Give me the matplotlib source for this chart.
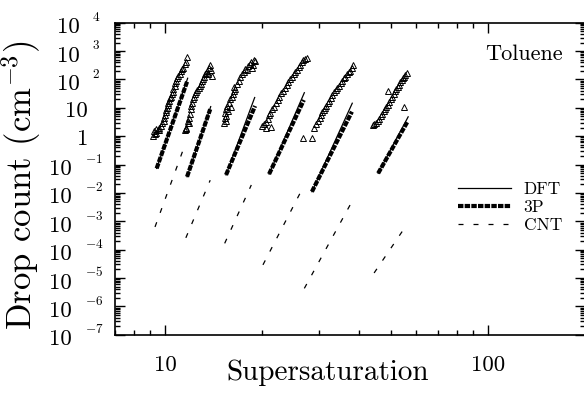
import numpy as np
import matplotlib
matplotlib.use('Agg')
import matplotlib.pyplot as plt
from matplotlib.ticker import LogLocator, NullFormatter

plt.rcParams['font.family'] = 'cmr10'
plt.rcParams['mathtext.fontset'] = 'cm'
plt.rcParams['axes.unicode_minus'] = False

# measured drop counts (triangles), one list pair per temperature group
g1_S = [9.2, 9.25, 9.3, 9.35, 9.4, 9.5, 9.55, 9.6, 9.7, 9.8, 9.9, 9.95, 10.0, 10.05, 10.1, 10.15,
        10.2, 10.25, 10.3, 10.35, 10.4, 10.5, 10.55, 10.6, 10.7, 10.75, 10.8, 10.9, 11.0, 11.1,
        11.2, 11.3, 11.4, 11.5, 11.6, 11.7]
g1_N = [1.0, 1.5, 1.2, 1.8, 1.3, 1.6, 2.0, 1.7, 2.2, 2.8, 3.5, 4.5, 5.5, 7.0, 8.5, 10,
        13, 15, 18, 22, 25, 30, 36, 45, 60, 75, 90, 110, 130, 160,
        200, 240, 260, 350, 420, 620]
g2_S = [11.5, 11.6, 11.65, 11.75, 11.8, 11.85, 11.9, 11.95, 12.0, 12.05, 12.1, 12.2, 12.3, 12.4,
        12.5, 12.6, 12.7, 12.8, 12.9, 13.0, 13.1, 13.2, 13.3, 13.4, 13.5, 13.6, 13.7, 13.8, 13.9, 14.0]
g2_N = [1.6, 2.0, 1.8, 2.8, 3.5, 4.5, 3.0, 6.0, 9.0, 12, 15, 20, 25, 30,
        35, 42, 50, 60, 70, 85, 100, 120, 150, 170, 200, 160, 250, 320, 210, 130]
g3_S = [15.2, 15.3, 15.35, 15.4, 15.5, 15.5, 15.6, 15.7, 15.8, 15.9, 16.0, 16.1, 16.2, 16.3, 16.4,
        16.5, 16.7, 16.9, 17.1, 17.3, 17.5, 17.7, 17.9, 18.1, 18.3, 18.5, 18.7, 18.9, 19.0, 18.6]
g3_N = [3.0, 4.5, 6.5, 3.5, 9.0, 5.0, 12, 7.5, 15, 20, 11, 25, 30, 40, 55,
        45, 70, 90, 120, 150, 180, 240, 210, 300, 350, 400, 330, 500, 450, 260]
g4_S = [19.9, 20.2, 20.5, 20.8, 21.0, 21.2, 21.5, 21.7, 22.0, 22.3, 22.6, 22.9, 23.2, 23.5, 23.8,
        24.1, 24.4, 24.7, 25.0, 25.3, 25.6, 25.9, 26.2, 26.5, 26.8, 27.1, 27.5, 21.3, 20.6]
g4_N = [2.3, 2.6, 3.2, 4.0, 5.5, 6.5, 9, 11, 15, 19, 25, 32, 40, 50, 65,
        80, 100, 120, 150, 180, 220, 270, 330, 400, 470, 520, 560, 2.1, 2.0]
g5_S = [26.8, 28.5, 29.0, 29.4, 29.8, 30.1, 30.4, 30.7, 31.0, 31.3, 31.6, 31.9, 32.2, 32.6,
        33.0, 33.4, 33.8, 34.2, 34.6, 35.0, 35.4, 35.8, 36.2, 36.6, 37.0, 37.4, 37.8, 38.3]
g5_N = [0.85, 0.85, 2.0, 2.6, 3.3, 4.5, 5.5, 7, 8.5, 10, 12, 15, 18, 22,
        28, 35, 42, 50, 60, 75, 90, 110, 125, 150, 180, 200, 250, 320]
g6_S = [44.0, 44.5, 45.0, 45.5, 46.0, 46.5, 47.0, 47.5, 48.0, 48.5, 49.0, 49.5, 50.0, 50.5,
        51.0, 51.5, 52.0, 52.5, 53.0, 53.5, 54.0, 54.5, 55.0, 55.5, 56.0, 49.1, 55.0]
g6_N = [2.5, 2.7, 3.0, 3.5, 4.0, 5.0, 6.0, 7.5, 9.0, 11, 13, 16, 20, 25,
        30, 38, 45, 55, 65, 80, 95, 110, 125, 145, 165, 39, 10.4]

# model curves: (start S, end S), (start N, end N)
dft_S = [(9.42, 11.75), (11.7, 13.85), (15.45, 18.95), (21.0, 27.0), (28.5, 38.0), (45.7, 56.6)]
dft_N = [(0.073, 110), (0.037, 11), (0.043, 23), (0.046, 34), (0.011, 14.5), (0.049, 4.8)]
p3_S = [(9.42, 11.7), (11.7, 13.8), (15.45, 19.0), (21.0, 26.9), (28.5, 37.9), (45.7, 56.3)]
p3_N = [(0.073, 83), (0.037, 8.9), (0.043, 11.6), (0.046, 18.8), (0.011, 7.3), (0.049, 3.2)]
cnt_S = [(9.31, 11.4), (11.6, 13.8), (15.3, 18.5), (20.1, 26.5), (27.0, 37.9), (44.4, 55.7)]
cnt_N = [(6.3e-4, 0.35), (2.6e-4, 0.028), (1.66e-4, 0.019), (2.9e-5, 0.0126), (4.3e-6, 0.0049),
         (1.5e-5, 6.8e-4)]

x_ticks = [10, 100]
y_decades = list(range(-7, 5))

fig = plt.figure(figsize=(5.84, 4.01), dpi=100)
ax = fig.add_axes([115 / 584, 1 - 334.7 / 401, 470.2 / 584, 312 / 401])
ax.set_xscale('log')
ax.set_yscale('log')
ax.set_xlim(7, 200)
ax.set_ylim(1e-7, 1e4)

for S, N in [(g1_S, g1_N), (g2_S, g2_N), (g3_S, g3_N), (g4_S, g4_N), (g5_S, g5_N), (g6_S, g6_N)]:
    ax.plot(S, N, ls='none', marker='^', ms=4, mfc='none', mec='k', mew=0.7)

for i in range(len(dft_S)):
    l_dft, = ax.plot(dft_S[i], dft_N[i], color='k', lw=0.9)
    l_3p, = ax.plot(p3_S[i], p3_N[i], color='k', lw=3, ls=(0, (1.3, 0.3)))
    l_cnt, = ax.plot(cnt_S[i], cnt_N[i], color='k', lw=0.9, ls=(0, (4, 8)))

ax.legend([l_dft, l_3p, l_cnt], ['DFT', '3P', 'CNT'], loc='upper left',
          bbox_to_anchor=(0.729, 0.49), frameon=False, borderpad=0, borderaxespad=0,
          handlelength=3.05, handletextpad=0.75, labelspacing=0.15, fontsize=12.5)

ax.annotate('Toluene', xy=(0.953, 0.903), xycoords='axes fraction', xytext=(0, -7),
            textcoords='offset pixels', ha='right', va='baseline', fontsize=16)

# ticks
ax.xaxis.set_major_locator(LogLocator(base=10))
ax.xaxis.set_minor_locator(LogLocator(base=10, subs=np.arange(2, 10)))
ax.yaxis.set_major_locator(LogLocator(base=10, numticks=20))
ax.yaxis.set_minor_locator(LogLocator(base=10, subs=np.arange(2, 10), numticks=20))
for axis in (ax.xaxis, ax.yaxis):
    axis.set_major_formatter(NullFormatter())
    axis.set_minor_formatter(NullFormatter())
ax.tick_params(which='both', direction='in', top=True, right=True, width=1)
ax.tick_params(which='major', length=7)
ax.tick_params(which='minor', length=3.6)
for s in ax.spines.values():
    s.set_linewidth(1.2)

# x tick labels
for v in x_ticks:
    ax.annotate('%d' % v, xy=(v, 0), xycoords=('data', 'axes fraction'),
                xytext=(0, -36), textcoords='offset pixels', ha='center', va='baseline',
                fontsize=16.5, annotation_clip=False)

# y tick labels in the "10 ^n" style
for n in y_decades:
    y = 10.0 ** n
    if n in (0, 1):
        ax.annotate('%d' % round(y), xy=(0, y), xycoords=('axes fraction', 'data'),
                    xytext=(-27, -9), textcoords='offset pixels', ha='right', va='baseline',
                    fontsize=16.5, annotation_clip=False)
        continue
    base_x = -35 if n > 0 else -43
    exp_x = -23 if n > 0 else -30
    ax.annotate('10', xy=(0, y), xycoords=('axes fraction', 'data'),
                xytext=(base_x, -10.6), textcoords='offset pixels', ha='right', va='baseline',
                fontsize=16.5, annotation_clip=False)
    ax.annotate('$%d$' % n, xy=(0, y), xycoords=('axes fraction', 'data'),
                xytext=(exp_x, 1.6), textcoords='offset pixels', ha='left', va='baseline',
                fontsize=9.5, annotation_clip=False)

ax.set_xlabel('Supersaturation', fontsize=21, va='baseline')
ax.xaxis.set_label_coords(0.453, -0.145)
ax.set_ylabel('Drop count (cm$^{-3}$)', fontsize=25)
ax.yaxis.set_label_coords(-0.153, 0.48)

fig.savefig('out.png', dpi=100)
